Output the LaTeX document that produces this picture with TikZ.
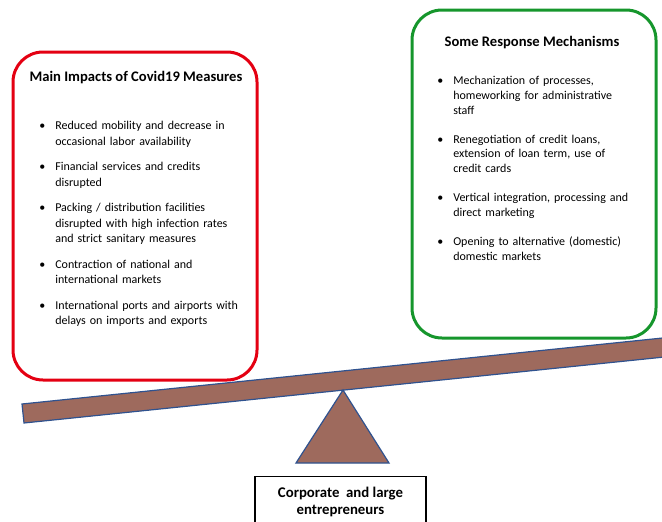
\documentclass[tikz,border=0pt]{standalone}
\usepackage{fontspec}
\setmainfont{Carlito}
\usetikzlibrary{positioning}

\definecolor{impactred}{RGB}{228,0,18}
\definecolor{responsegreen}{RGB}{22,150,44}
\definecolor{beambrown}{RGB}{158,106,93}
\definecolor{beamblue}{RGB}{47,82,143}
\newcommand{\bitem}[1]{\hangindent=17pt\hangafter=1\noindent\makebox[17pt][l]{\hspace{1pt}\textbullet}#1\par}

\begin{document}
\begin{tikzpicture}[x=1pt,y=-1pt,semithick]
  \tikzstyle{every node}=[inner sep=0pt]
  \tikzstyle{panel}=[draw,rounded corners=30pt,line width=3pt,minimum width=244pt,minimum height=328pt]
  \tikzstyle{paneltitle}=[font=\bfseries\fontsize{14.6}{17}\selectfont]
  \tikzstyle{itemlist}=[text width=215pt,align=left,anchor=north west,font=\fontsize{12}{15.5}\selectfont]
  \useasboundingbox (0,0) rectangle (662,522);
  \clip (0,0) rectangle (662,522);

  % the two panels
  \node[panel,draw=impactred]     (impacts)   at (135,216) {};
  \node[panel,draw=responsegreen] (responses) at (534,174) {};

  \node[paneltitle] (impactstitle)   at (136,78) {Main Impacts of Covid19 Measures};
  \node[paneltitle] (responsestitle) at (532,43) {Some Response Mechanisms};

  \node[itemlist] (impactlist) at (38,121) {\setlength{\parskip}{10pt}%
    \bitem{Reduced mobility and decrease in\newline occasional labor availability}
    \bitem{Financial services and credits\newline disrupted}
    \bitem{Packing / distribution facilities\newline disrupted with high infection rates\newline and strict sanitary measures}
    \bitem{Contraction of national and\newline international markets}
    \bitem{International ports and airports with\newline delays on imports and exports}};

  \node[itemlist,font=\fontsize{12}{14.7}\selectfont] (responselist) at (436,76) {\setlength{\parskip}{14.5pt}%
    \bitem{Mechanization of processes,\newline homeworking for administrative\newline staff}
    \bitem{Renegotiation of credit loans,\newline extension of loan term, use of\newline credit cards}
    \bitem{Vertical integration, processing and\newline direct marketing}
    \bitem{Opening to alternative (domestic)\newline domestic markets}};

  % the balance
  \draw[beamblue,fill=beambrown,line width=1.2pt] (22,404) -- (682,336) -- (684,355) -- (24,423) -- cycle;
  \coordinate (apex) at (343,390);
  \draw[beamblue,fill=beambrown,line width=1.2pt] (apex) -- (389,463) -- (296,463) -- cycle;

  \node[draw,line width=1.2pt,minimum width=171pt,inner sep=11pt,align=center,anchor=north,
        font=\bfseries\fontsize{14.8}{17}\selectfont] (firms) at (340.5,476)
        {Corporate\ \ and large\\entrepreneurs};
\end{tikzpicture}
\end{document}
